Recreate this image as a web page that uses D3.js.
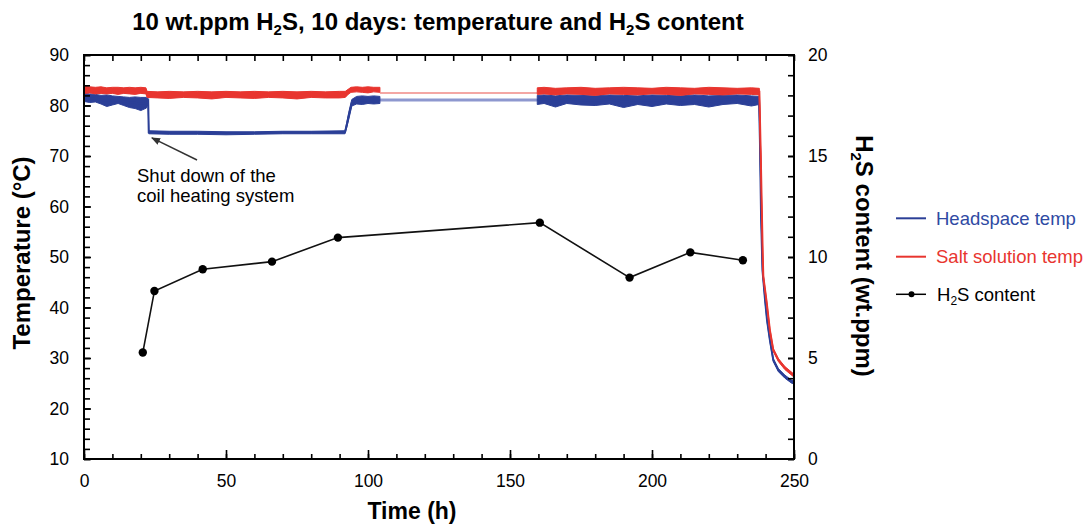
<!DOCTYPE html>
<html><head><meta charset="utf-8">
<script src="https://cdn.jsdelivr.net/npm/d3@7"></script>
<style>body{margin:0;background:#fff} svg text{font-family:"Liberation Sans",Arial,sans-serif}</style>
</head><body><svg id="c" width="1091" height="530"></svg>
<script>
// ---- tick labels ----
const xTicks = [0, 50, 100, 150, 200, 250];
const tempTicks = [10, 20, 30, 40, 50, 60, 70, 80, 90];
const h2sTicks = [0, 5, 10, 15, 20];

// ---- H2S content (wt.ppm) ----
const h2sTime  = [20.7, 24.8, 41.8, 66.2, 89.4, 160.5, 192.1, 213.5, 232.0];
const h2sValue = [5.27, 8.32, 9.39, 9.77, 10.96, 11.70, 8.98, 10.23, 9.84];

// ---- Headspace temp (band: high / low) ----
const hsTime1 = [0,2,4,6,8,10,12,14,16,18,20,22,22.6,22.8,30,40,50,60,70,80,91.9,92.5,93.2,94.3,96,98,100,102,104.2];
const hsHigh1 = [82.4,82.3,82.2,82.0,82.1,81.9,81.8,81.7,81.6,81.7,81.6,81.6,81.4,75.0,74.9,74.9,74.8,74.8,74.9,74.9,75.0,76.6,78.6,81.2,81.8,81.9,81.8,81.9,81.8];
const hsLow1  = [80.8,80.6,80.7,80.3,79.8,80.1,80.4,80.0,79.6,79.4,79.0,79.5,80.4,74.4,74.3,74.3,74.2,74.3,74.4,74.4,74.4,75.6,77.2,79.9,80.3,80.2,80.4,80.3,80.4];
const hsTime2 = [159.6,162,166,170,175,180,185,190,195,200,205,210,215,220,225,230,235,237.7,238.0,238.4,238.9,239.8,240.5,241.5,242.7,244.5,246.8,249.2,250];
const hsHigh2 = [82.0,82.1,81.9,82.1,82.0,81.9,82.1,82.0,81.9,82.1,82.0,81.9,82.1,81.9,82.0,82.1,81.9,81.8,73.5,58.6,47.7,41.8,37.8,33.9,29.9,27.9,26.6,25.6,25.5];
const hsLow2  = [80.2,80.4,79.7,80.4,80.1,80.0,80.3,79.6,80.2,79.8,80.3,80.0,80.2,79.7,80.2,80.4,79.9,80.2,72.9,58.0,47.1,41.2,37.2,33.3,29.3,27.3,26.0,25.0,24.9];

// ---- Salt solution temp (band: high / low) ----
const ssTime1 = [0,2,4,6,8,10,12,14,16,18,20,21.8,22.2,26,30,35,40,45,50,55,60,65,70,75,80,85,90,92,93,94,96,98,100,102,104.2];
const ssHigh1 = [83.8,83.7,83.6,83.7,83.5,83.6,83.6,83.5,83.6,83.5,83.6,83.5,82.8,82.7,82.8,82.7,82.8,82.7,82.8,82.7,82.8,82.7,82.8,82.7,82.8,82.7,82.8,82.8,83.2,83.6,83.7,83.6,83.7,83.6,83.6];
const ssLow1  = [82.4,82.5,82.3,82.4,82.3,82.4,82.2,82.4,82.3,82.2,82.4,82.3,81.6,81.5,81.4,81.6,81.5,81.3,81.6,81.5,81.4,81.6,81.5,81.3,81.6,81.5,81.5,81.6,82.2,82.6,82.7,82.6,82.5,82.7,82.6];
const ssTime2 = [159.6,162,166,170,175,180,185,190,195,200,205,210,215,220,225,230,235,237.8,238.3,238.6,239.0,239.2,240.4,241.5,242.7,244.5,246.8,249.8,250];
const ssHigh2 = [83.5,83.6,83.4,83.5,83.6,83.4,83.5,83.6,83.5,83.4,83.6,83.5,83.4,83.6,83.5,83.4,83.5,83.4,70.3,61.6,50.4,46.4,41.2,35.8,31.9,29.9,28.3,26.9,26.8];
const ssLow2  = [82.2,82.3,82.1,82.3,82.2,82.0,82.3,82.2,82.1,82.3,82.2,82.0,82.3,82.2,82.1,82.3,82.2,82.1,69.7,61.0,49.8,45.8,40.6,35.2,31.3,29.3,27.7,26.3,26.2];

// ---- logging gap (straight connection) ----
const gapTime = [104.2, 159.6];
const hsGap = [81.1, 81.1];
const ssGap = [82.5, 82.5];

const BLUE = "#2b3f97", RED = "#e8352f";
const svg = d3.select("#c");
const x = d3.scaleLinear().domain([0, 250]).range([84, 794]);
const yT = d3.scaleLinear().domain([10, 90]).range([459, 55]);
const yH = d3.scaleLinear().domain([0, 20]).range([459, 55]);

function zip3(t, hi, lo) { return t.map((d, i) => ({t: d, hi: hi[i], lo: lo[i]})); }
const area = d3.area().x(d => x(d.t)).y0(d => yT(d.lo)).y1(d => yT(d.hi));
const mid = d3.line().x(d => x(d.t)).y(d => yT((d.hi + d.lo) / 2));
const plain = d3.line().x(d => x(d.t)).y(d => yT(d.v));

function band(t, hi, lo, color) {
  const data = zip3(t, hi, lo);
  svg.append("path").attr("d", area(data)).attr("fill", color).attr("stroke", color).attr("stroke-width", 1);
  svg.append("path").attr("d", mid(data)).attr("fill", "none").attr("stroke", color).attr("stroke-width", 2);
}

// gaps (faded)
svg.append("path").attr("d", plain(gapTime.map((d, i) => ({t: d, v: hsGap[i]}))))
  .attr("stroke", "#8e98cf").attr("stroke-width", 3).attr("fill", "none");
svg.append("path").attr("d", plain(gapTime.map((d, i) => ({t: d, v: ssGap[i]}))))
  .attr("stroke", "#f08a86").attr("stroke-width", 1.5).attr("fill", "none");

band(hsTime1, hsHigh1, hsLow1, BLUE);
band(hsTime2, hsHigh2, hsLow2, BLUE);
band(ssTime1, ssHigh1, ssLow1, RED);
band(ssTime2, ssHigh2, ssLow2, RED);

// H2S line + markers
const h2s = h2sTime.map((d, i) => ({t: d, v: h2sValue[i]}));
svg.append("path").attr("d", d3.line().x(d => x(d.t)).y(d => yH(d.v))(h2s))
  .attr("fill", "none").attr("stroke", "#111").attr("stroke-width", 1.6);
svg.selectAll("circle.h").data(h2s).enter().append("circle")
  .attr("cx", d => x(d.t)).attr("cy", d => yH(d.v)).attr("r", 4.2).attr("fill", "#000");

// ---- axes ----
function styleAxis(g) {
  g.select(".domain").remove();
  g.attr("font-family", "Liberation Sans, Arial, sans-serif").attr("font-size", 17.5);
  g.selectAll("line").attr("stroke", "#000").attr("stroke-width", 1.6);
  g.selectAll("text").attr("fill", "#000");
}
svg.append("g").attr("transform", "translate(84,0)")
  .call(d3.axisLeft(yT).tickValues(d3.range(10, 91, 2)).tickSize(-6).tickFormat("")).call(styleAxis);
svg.append("g").attr("transform", "translate(84,0)")
  .call(d3.axisLeft(yT).tickValues(tempTicks).tickSize(-7).tickPadding(15).tickFormat(d3.format("d"))).call(styleAxis);
svg.append("g").attr("transform", "translate(794,0)")
  .call(d3.axisRight(yH).tickValues(d3.range(0, 21, 1)).tickSize(-6).tickFormat("")).call(styleAxis);
svg.append("g").attr("transform", "translate(794,0)")
  .call(d3.axisRight(yH).tickValues(h2sTicks).tickSize(-6).tickPadding(14).tickFormat(d3.format("d"))).call(styleAxis);
svg.append("g").attr("transform", "translate(0,459)")
  .call(d3.axisBottom(x).tickValues(d3.range(0, 251, 10)).tickSize(-5).tickFormat("")).call(styleAxis);
svg.append("g").attr("transform", "translate(0,459)")
  .call(d3.axisBottom(x).tickValues(xTicks).tickSize(-9).tickPadding(16).tickFormat(d3.format("d"))).call(styleAxis);
svg.append("g").attr("transform", "translate(0,55)")
  .call(d3.axisTop(x).tickValues(d3.range(0, 251, 10)).tickSize(-6).tickFormat("")).call(styleAxis);

svg.append("rect").attr("x", 84).attr("y", 55).attr("width", 710).attr("height", 404)
  .attr("fill", "none").attr("stroke", "#000").attr("stroke-width", 2);

// ---- titles ----
const title = svg.append("text").attr("x", 438).attr("y", 30).attr("text-anchor", "middle")
  .attr("font-size", 24).attr("font-weight", "bold");
title.append("tspan").text("10 wt.ppm H");
title.append("tspan").attr("dy", 5).attr("font-size", 15).text("2");
title.append("tspan").attr("dy", -5).text("S, 10 days: temperature and H");
title.append("tspan").attr("dy", 5).attr("font-size", 15).text("2");
title.append("tspan").attr("dy", -5).text("S content");

svg.append("text").attr("x", 412).attr("y", 519).attr("text-anchor", "middle")
  .attr("font-size", 23).attr("font-weight", "bold").text("Time (h)");

svg.append("text").attr("transform", "translate(30,253) rotate(-90)").attr("text-anchor", "middle")
  .attr("font-size", 24).attr("font-weight", "bold").text("Temperature (°C)");

const rl = svg.append("text").attr("transform", "translate(856,256) rotate(90)").attr("text-anchor", "middle")
  .attr("font-size", 24).attr("font-weight", "bold");
rl.append("tspan").text("H");
rl.append("tspan").attr("dy", 5).attr("font-size", 15).text("2");
rl.append("tspan").attr("dy", -5).text("S content (wt.ppm)");

// ---- annotation ----
svg.append("defs").append("marker").attr("id", "ah").attr("viewBox", "0 0 10 10")
  .attr("refX", 9).attr("refY", 5).attr("markerWidth", 9).attr("markerHeight", 9)
  .attr("orient", "auto").attr("markerUnits", "userSpaceOnUse")
  .append("path").attr("d", "M0,1 L10,5 L0,9 Z").attr("fill", "#333");
svg.append("line").attr("x1", x(39.8)).attr("y1", yT(69.2)).attr("x2", x(23.9)).attr("y2", yT(73.6))
  .attr("stroke", "#333").attr("stroke-width", 1.5).attr("marker-end", "url(#ah)");
svg.append("text").attr("x", 137).attr("y", 182).attr("font-size", 18.5).text("Shut down of the");
svg.append("text").attr("x", 137).attr("y", 202).attr("font-size", 18.5).text("coil heating system");

// ---- legend ----
const lg = svg.append("g");
lg.append("line").attr("x1", 896).attr("x2", 926).attr("y1", 218.3).attr("y2", 218.3).attr("stroke", BLUE).attr("stroke-width", 2);
lg.append("text").attr("x", 936).attr("y", 224.5).attr("font-size", 18.5).attr("fill", "#2f4aa3").text("Headspace temp");
lg.append("line").attr("x1", 896).attr("x2", 926).attr("y1", 256.7).attr("y2", 256.7).attr("stroke", RED).attr("stroke-width", 2);
lg.append("text").attr("x", 936).attr("y", 263).attr("font-size", 18.5).attr("fill", RED).text("Salt solution temp");
lg.append("line").attr("x1", 896).attr("x2", 926).attr("y1", 294.3).attr("y2", 294.3).attr("stroke", "#000").attr("stroke-width", 1.5);
lg.append("circle").attr("cx", 911.5).attr("cy", 294.3).attr("r", 3).attr("fill", "#000");
const lt = lg.append("text").attr("x", 937).attr("y", 300.5).attr("font-size", 18.5).attr("fill", "#000");
lt.append("tspan").text("H");
lt.append("tspan").attr("dy", 4).attr("font-size", 12).text("2");
lt.append("tspan").attr("dy", -4).text("S content");
</script>
</body></html>
